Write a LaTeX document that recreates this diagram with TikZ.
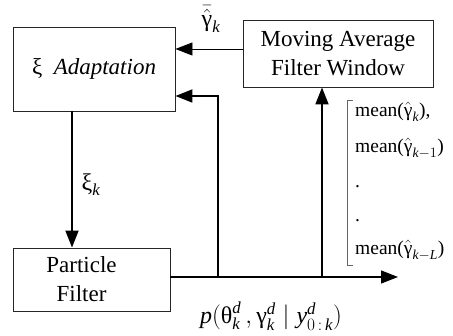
\documentclass[tikz,border=0pt]{standalone}
\usepackage{fontspec}
\usepackage{amsmath}
\setmainfont{Liberation Serif}
\usetikzlibrary{arrows.meta}
\newcommand{\gm}{\text{γ}}
\begin{document}
\begin{tikzpicture}[x=1pt,y=-1pt,
  font=\fontsize{23}{29}\selectfont,
  box/.style={draw=black!85, line width=0.9pt, rectangle, inner sep=0pt, align=center},
  arr/.style={-{Triangle[length=17pt,width=13pt]}},
  heavyline/.style={line width=1.8pt},
  thinline/.style={line width=0.9pt},
  midline/.style={line width=1.2pt},
  meantxt/.style={anchor=west, inner sep=0pt, font=\fontsize{19.5}{22}\selectfont},
  lbl/.style={inner sep=0pt, font=\fontsize{24}{26}\selectfont}]
\useasboundingbox (0,0) rectangle (453,336);

\node[box, minimum width=162pt, minimum height=84pt] (adapt) at (94,69) {ξ\ \ \textit{Adaptation}};
\node[box, minimum width=190pt, minimum height=67pt] (ma) at (338,53.5) {Moving Average\\Filter Window};
\node[box, minimum width=157pt, minimum height=63pt] (pf) at (91.5,279.5) {\hspace*{-20pt}Particle\\\hspace*{-20pt}Filter};

\coordinate (j1) at (218,277);
\coordinate (j2) at (322,277);
\coordinate (out) at (398,277);
\coordinate (fb) at (218,96);
\coordinate (mah) at (243,49);
\coordinate (dn) at (72,111);

% connectors
\draw[thinline, arr] (mah) -- (adapt.east |- mah);
\draw[heavyline, arr] (dn) -- (dn |- pf.north);
\draw[midline, arr] (pf.east |- out) -- (out);
\draw[heavyline, arr] (j1) -- (fb) -- (adapt.east |- fb);
\draw[heavyline, arr] (j2) -- (j2 |- ma.south);

% bracket
\draw[black!60, line width=0.7pt] (353,100) -- (347,100) -- (347,265) -- (353,265);

% labels
\node[lbl] (lgam) at (211,19) {$\bar{\hat{\gm}}_{\textit{k}}$};
\node[lbl] (lxi) at (91,185) {$\text{ξ}_{\textit{k}}$};
\node[lbl] (lp) at (271,316) {$\textit{p}(\text{θ}^{\textit{d}}_{\textit{k}}\,,\boldsymbol{\gm}^{\textit{d}}_{\textit{k}}\mid \textit{y}^{\textit{d}}_{0\,:\,\textit{k}})$};

\node[meantxt] (m1) at (355,112) {mean($\hat{\gm}_{\textit{k}}$),};
\node[meantxt] (m2) at (355,148) {mean($\hat{\gm}_{\textit{k}-1}$)};
\node[meantxt] (d1) at (355,187) {.};
\node[meantxt] (d2) at (355,221) {.};
\node[meantxt] (m3) at (355,250) {mean($\hat{\gm}_{\textit{k}-\textit{L}}$)};
\end{tikzpicture}
\end{document}
